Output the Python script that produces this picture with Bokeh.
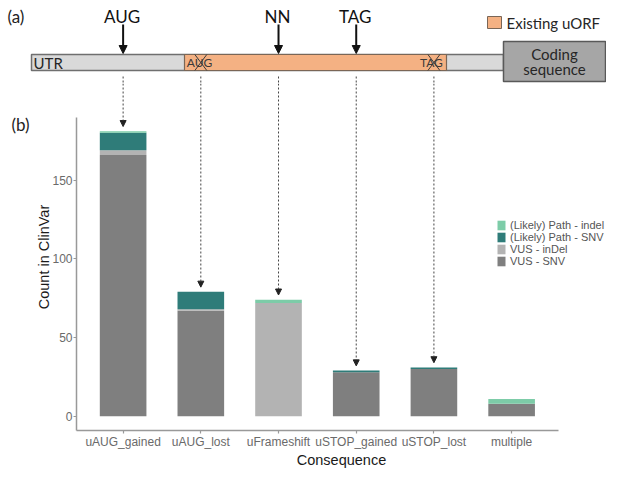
from bokeh.plotting import figure
from bokeh.models import (Range1d, FixedTicker, Legend, LegendItem, Arrow, LinearAxis,
                          NormalHead, ColumnDataSource)
from bokeh.core.properties import value
from bokeh.embed import file_html
from bokeh.resources import INLINE

# ---------------- data ----------------
categories = ["uAUG_gained", "uAUG_lost", "uFrameshift", "uSTOP_gained", "uSTOP_lost", "multiple"]
vus_snv    = [166, 67, 0, 28, 30, 8]
vus_indel  = [3, 1, 72, 0, 0, 0]
path_snv   = [11, 11, 0, 1, 1, 0]
path_indel = [1, 0, 2, 0, 0, 3]
series_keys   = ["vus_snv", "vus_indel", "path_snv", "path_indel"]
series_labels = ["VUS - SNV", "VUS - inDel", "(Likely) Path - SNV", "(Likely) Path - indel"]
series_colors = ["#7f7f7f", "#b3b3b3", "#2f7c79", "#7dcca8"]
y_ticks = [0, 50, 100, 150]

# schematic: marks above the transcript and the bar each one points to
marker_labels  = ["AUG", "NN", "TAG"]
marker_targets = ["uAUG_gained", "uFrameshift", "uSTOP_gained"]
crossed_labels  = ["AUG", "TAG"]
crossed_targets = ["uAUG_lost", "uSTOP_lost"]

# ---------------- layout ----------------
W = 606
TOP_H = 83
BOT_H = 470 - TOP_H
FRAME_L = 76
PX_CAT = 77.7
PAD = 0.6
MB_BOTTOM = 35
AXIS_TOP_PX = 34

FONT = "Liberation Sans"
DFONT = "Lato"

totals = [a + b + c + d for a, b, c, d in zip(vus_snv, vus_indel, path_snv, path_indel)]
ymax = max(totals)
y_lo = -0.05 * ymax
y_hi = ymax * 1.05
frame_h = BOT_H - MB_BOTTOM
scale = (frame_h - AXIS_TOP_PX) / (y_hi - y_lo)
y_end = y_lo + frame_h / scale
x_end = -PAD + (W - FRAME_L) / PX_CAT


def cx(cat):
    return FRAME_L + (categories.index(cat) + PAD) * PX_CAT


# ---------------- top schematic ----------------
top = figure(width=W, height=TOP_H, x_range=Range1d(0, W), y_range=Range1d(TOP_H, 0),
             output_backend="svg", toolbar_location=None, x_axis_type=None, y_axis_type=None,
             min_border=0, min_border_left=0, min_border_right=0, min_border_top=0,
             min_border_bottom=0)
top.grid.visible = False
top.outline_line_color = None

bar_t, bar_b = 54, 70
code_l, code_r = 503, 605
top.quad(left=[31], right=[code_l], top=[bar_t], bottom=[bar_b], fill_color="#d9d9d9",
         line_color="#6f6f6f", line_width=1.5)
top.quad(left=[184], right=[446], top=[bar_t], bottom=[bar_b], fill_color="#f4b183",
         line_color="#7a6656", line_width=1.2)
top.quad(left=[code_l], right=[code_r], top=[41], bottom=[81], fill_color="#a6a6a6",
         line_color="#595959", line_width=1.5)
top.text(x=[(code_l + code_r) / 2] * 2, y=[53, 68], text=["Coding", "sequence"],
         text_font=value(DFONT), text_font_size="15px", text_align="center",
         text_baseline="middle", text_color="#262626")
top.text(x=[33], y=[62], text=["UTR"], text_font=value(DFONT), text_font_size="15px",
         text_baseline="middle", text_color="#262626")
top.text(x=[7], y=[16], text=["(a)"], text_font=value(DFONT), text_font_size="17px",
         text_baseline="middle", text_color="#222222")

# legend of the schematic
top.quad(left=[487], right=[501], top=[16], bottom=[28], fill_color="#f4b183",
         line_color="#7a6656", line_width=1)
top.text(x=[506], y=[22.5], text=["Existing uORF"], text_font=value(DFONT),
         text_font_size="15px", text_baseline="middle", text_color="#262626")

# markers with solid arrows
for lab, tgt in zip(marker_labels, marker_targets):
    x = cx(tgt)
    top.text(x=[x - 1], y=[15.5], text=[lab], text_font=value(DFONT), text_font_size="17px",
             text_align="center", text_baseline="middle", text_color="#111111")
    top.add_layout(Arrow(x_start=x, y_start=24, x_end=x, y_end=bar_t - 1, line_width=2,
                         line_color="#111111",
                         end=NormalHead(size=8, fill_color="#111111", line_color="#111111")))

# crossed codons inside the existing uORF
for lab, tgt in zip(crossed_labels, crossed_targets):
    x = cx(tgt)
    top.text(x=[x - 14], y=[62], text=[lab], text_font=value(DFONT), text_font_size="12px",
             text_baseline="middle", text_color="#3a3a3a")
    top.segment(x0=[x - 6, x + 6], y0=[bar_t, bar_t], x1=[x + 6, x - 6], y1=[bar_b, bar_b],
                line_color="#3a3a3a", line_width=1)

# start of dotted links
all_targets = marker_targets + crossed_targets
top.segment(x0=[cx(t) for t in all_targets], y0=[76] * len(all_targets),
            x1=[cx(t) for t in all_targets], y1=[TOP_H] * len(all_targets),
            line_color="#444444", line_width=1, line_dash="2 2")

# ---------------- bar chart ----------------
p = figure(width=W, height=BOT_H, x_range=Range1d(-PAD, x_end), y_range=Range1d(y_lo, y_end),
           output_backend="svg", toolbar_location=None,
           min_border_left=FRAME_L, min_border_right=0, min_border_top=0,
           min_border_bottom=MB_BOTTOM)
p.grid.visible = False
p.outline_line_color = None

source = ColumnDataSource(dict(x=list(range(len(categories))), vus_snv=vus_snv,
                               vus_indel=vus_indel, path_snv=path_snv, path_indel=path_indel))
rends = p.vbar_stack(series_keys, x="x", width=0.6, fill_color=series_colors,
                     line_color=None, source=source)


def by(ref_y):
    # vertical position inside the bar-chart canvas for a given reference pixel row
    return AXIS_TOP_PX + (ref_y - 126) * (frame_h - AXIS_TOP_PX) / 331.0


leg_top = by(235) - 6 + 8
legend = Legend(items=[LegendItem(label=series_labels[k], renderers=[rends[k]])
                       for k in reversed(range(len(series_keys)))],
                location=(420, frame_h - leg_top - 48), glyph_width=10, glyph_height=12,
                label_height=12, label_standoff=4, spacing=0, padding=0, margin=0,
                border_line_color=None, background_fill_alpha=0, label_text_font=FONT,
                label_text_font_size="11px", label_text_color="#555555")
p.add_layout(legend)

for ax in (p.xaxis[0], p.yaxis[0]):
    ax.axis_line_color = "#999999"
    ax.axis_line_width = 1.5
    ax.major_tick_line_color = "#999999"
    ax.major_tick_line_width = 1.2
    ax.major_tick_in = 0
    ax.major_tick_out = 3
    ax.minor_tick_line_color = None
    ax.major_label_text_font = FONT
    ax.major_label_text_font_size = "12px"
    ax.major_label_text_color = "#6a6a6a"
    ax.axis_label_text_font = FONT
    ax.axis_label_text_font_size = "14.5px"
    ax.axis_label_text_font_style = "normal"
    ax.axis_label_text_color = "#1a1a1a"
    ax.major_label_standoff = 1
    ax.axis_label_standoff = 0

p.xaxis.ticker = FixedTicker(ticks=list(range(len(categories))))
p.xaxis.major_label_overrides = {i: c for i, c in enumerate(categories)}
p.xaxis.bounds = (-PAD, len(categories) - 1 + PAD)
p.xaxis.axis_label = "Consequence"
p.yaxis.ticker = FixedTicker(ticks=y_ticks)
p.yaxis.bounds = (y_lo, y_hi)
p.yaxis.axis_label = "Count in ClinVar"
p.yaxis.axis_label_standoff = -3

# panel tag "(b)" drawn as the single label of an extra, line-less left axis
b_y = y_end - by(133.5) / scale
tag_axis = LinearAxis(ticker=FixedTicker(ticks=[b_y]), major_label_overrides={b_y: "(b)"},
                      axis_line_color=None, major_tick_line_color=None,
                      minor_tick_line_color=None, major_tick_out=0, major_tick_in=0,
                      major_label_standoff=4,
                      major_label_text_font=DFONT, major_label_text_font_size="17px",
                      major_label_text_color="#222222")
p.add_layout(tag_axis, "left")

# dotted links from schematic to bars
for tgt in all_targets:
    i = categories.index(tgt)
    p.add_layout(Arrow(x_start=i, y_start=y_end, x_end=i, y_end=totals[i] + 3,
                       line_color="#444444", line_width=1, line_dash="2 2",
                       end=NormalHead(size=6, fill_color="#222222", line_color="#222222")))

open("out.html", "w").write(file_html([top, p], INLINE))
